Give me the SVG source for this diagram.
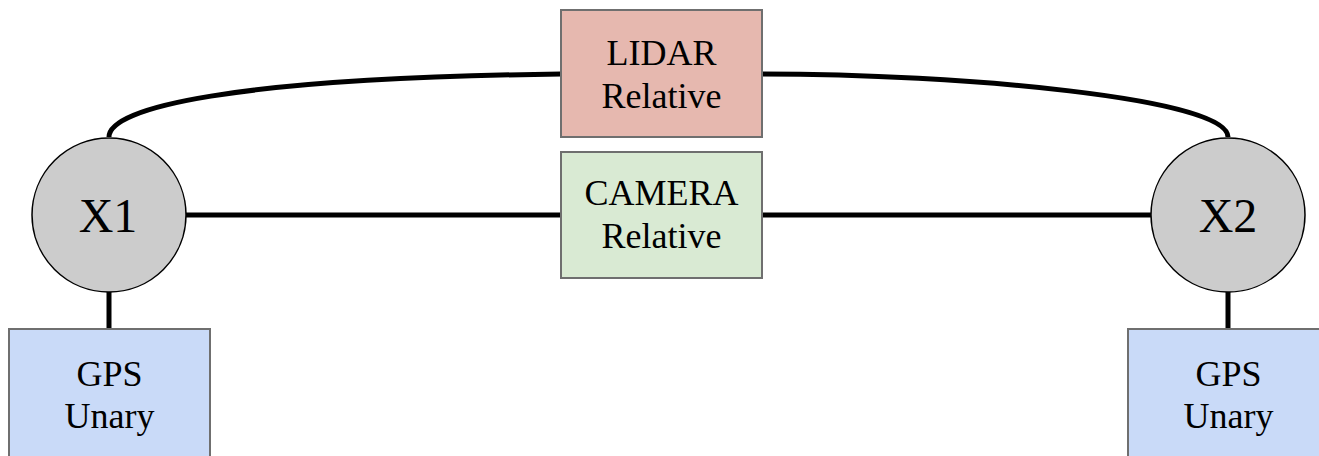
<svg xmlns="http://www.w3.org/2000/svg" width="1319" height="456" viewBox="0 0 1319 456">
  <style>
    .edge { fill: none; stroke: #000; stroke-width: 5; }
    .factor { stroke: #6f6f6f; stroke-width: 2; }
    .var { fill: #cccccc; stroke: #000; stroke-width: 1.5; }
    .lbl { font-family: "Liberation Serif", "Times New Roman", serif; font-size: 36px; fill: #000; text-anchor: middle; }
    .vlbl { font-family: "Liberation Serif", "Times New Roman", serif; font-size: 48px; fill: #000; text-anchor: middle; }
  </style>

  <!-- connectors -->
  <g id="edges">
    <path class="edge" d="M109,137 C109,108 230,78 561,74"/>
    <path class="edge" d="M762,74 C960,74 1228,98 1228,137"/>
    <line class="edge" x1="186" y1="215" x2="561" y2="215"/>
    <line class="edge" x1="762" y1="215" x2="1151" y2="215"/>
    <line class="edge" x1="109" y1="292" x2="109" y2="329"/>
    <line class="edge" x1="1228" y1="292" x2="1228" y2="329"/>
  </g>

  <g id="lidar">
    <rect class="factor" x="561" y="10" width="201" height="127" fill="#e6b8af"/>
    <text class="lbl" x="661.5" y="65">LIDAR</text>
    <text class="lbl" x="661.5" y="108">Relative</text>
  </g>

  <g id="camera">
    <rect class="factor" x="561" y="152" width="201" height="126" fill="#d9ead3"/>
    <text class="lbl" x="661.5" y="205">CAMERA</text>
    <text class="lbl" x="661.5" y="248">Relative</text>
  </g>

  <g id="x1">
    <circle class="var" cx="109" cy="215" r="77"/>
    <text class="vlbl" x="108" y="232">X1</text>
  </g>

  <g id="x2">
    <circle class="var" cx="1228" cy="215" r="77"/>
    <text class="vlbl" x="1228" y="232">X2</text>
  </g>

  <g id="gps1">
    <rect class="factor" x="9" y="329" width="201" height="140" fill="#c9daf8"/>
    <text class="lbl" x="109.5" y="386">GPS</text>
    <text class="lbl" x="109.5" y="428">Unary</text>
  </g>

  <g id="gps2">
    <rect class="factor" x="1128" y="329" width="201" height="140" fill="#c9daf8"/>
    <text class="lbl" x="1228.5" y="386">GPS</text>
    <text class="lbl" x="1228.5" y="428">Unary</text>
  </g>
</svg>
